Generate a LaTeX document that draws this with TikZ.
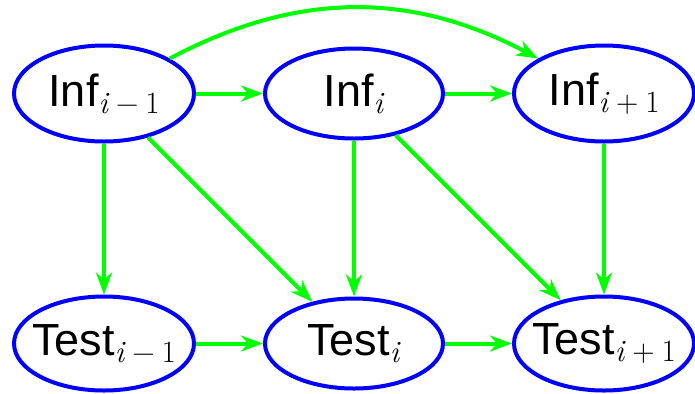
\documentclass[tikz,border=0pt]{standalone}
\usepackage{fontspec}
\setmainfont{Liberation Sans}
\newfontfamily\lmfont{Latin Modern Roman}
\usetikzlibrary{shapes.geometric, arrows.meta, positioning}

% index: italic letter plus offset, lowered like a subscript
\newcommand{\idx}[2]{\raisebox{-3.5pt}{\fontsize{15.5}{18}\lmfont\textit{#1}#2}}
\newcommand{\off}[2]{\hspace{3.4pt}#1\hspace{3.4pt}#2}

\begin{document}
\begin{tikzpicture}[
    node distance=125pt and 125pt, on grid,
    state/.style={ellipse, draw=blue, line width=2pt, minimum width=90pt, minimum height=48pt, inner xsep=-7pt, inner ysep=0pt, font=\fontsize{22.5}{27}\selectfont},
    link/.style={-{Stealth[length=11pt, width=8pt, inset=3.5pt]}, draw=green, line width=2pt}
]
\useasboundingbox (-52pt,46.75pt) rectangle (295.5pt,-149.75pt);

% Inference chain
\node[state] (inf1) {Inf\idx{i}{\off{−}{1}}};
\node[state, right=of inf1, minimum width=89pt, minimum height=45pt] (inf2) {Inf\idx{i}{}};
\node[state, right=of inf2] (inf3) {Inf\idx{i}{\off{+}{1}}};

% Test chain
\node[state, below=of inf1, minimum height=47pt] (test1) {Test\idx{i}{\off{−}{1}}};
\node[state, right=of test1, minimum width=89pt, minimum height=45pt] (test2) {Test\idx{i}{}};
\node[state, right=of test2, minimum height=47pt] (test3) {Test\idx{i}{\off{+}{1}}};

% Arrows
\draw[link] (inf1) -- (inf2);
\draw[link] (inf2) -- (inf3);
\draw[link] (test1) -- (test2);
\draw[link] (test2) -- (test3);

\draw[link] (inf1) -- (test1);
\draw[link] (inf2) -- (test2);
\draw[link] (inf3) -- (test3);

\draw[link] (inf1) -- (test2);
\draw[link] (inf2) -- (test3);

\draw[link] (inf1) to[bend left=28] (inf3);

\end{tikzpicture}
\end{document}
